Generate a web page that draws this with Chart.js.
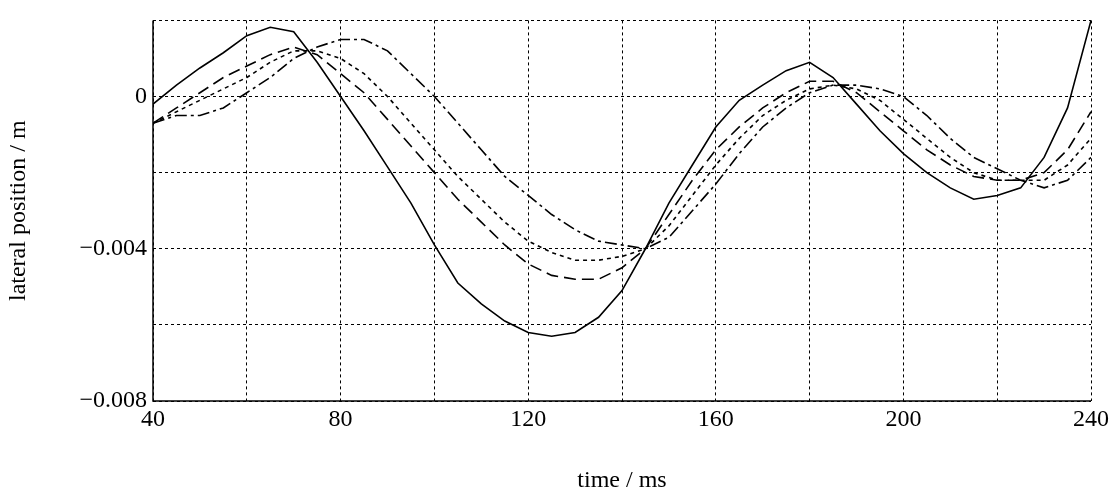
<!DOCTYPE html>
<html>
<head>
<meta charset="utf-8">
<script src="https://cdn.jsdelivr.net/npm/chart.js@4"></script>
<style>
  html, body { margin: 0; padding: 0; background: #fff; }
  #wrap { width: 1113px; height: 487px; }
</style>
</head>
<body>
<div id="wrap"><canvas id="c"></canvas></div>
<script>
// sample times (ms)
const times = [40,45,50,55,60,65,70,75,80,85,90,95,100,105,110,115,120,125,130,135,140,
  145,150,155,160,165,170,175,180,185,190,195,200,205,210,215,220,225,230,235,240];

// lateral position (m) for the four curves
const solid = [-0.0002,0.0003,0.00075,0.00115,0.0016,0.00182,0.0017,0.0009,0.0000,-0.0009,-0.00185,
  -0.0028,-0.0039,-0.0049,-0.00545,-0.0059,-0.0062,-0.0063,-0.0062,-0.0058,-0.0051,
  -0.0040,-0.0028,-0.0018,-0.0008,-0.0001,0.0003,0.00068,0.0009,0.0005,-0.0002,
  -0.0009,-0.0015,-0.002,-0.0024,-0.0027,-0.0026,-0.0024,-0.0016,-0.0003,0.002];
const dashed = [-0.0007,-0.0003,0.0001,0.0005,0.0008,0.0011,0.0013,0.0011,0.0006,0.0001,-0.0006,
  -0.0013,-0.0020,-0.0027,-0.0033,-0.0039,-0.0044,-0.0047,-0.0048,-0.0048,-0.0045,
  -0.0040,-0.0031,-0.0022,-0.0014,-0.0008,-0.0003,0.0001,0.0004,0.0004,0.0001,
  -0.0004,-0.0009,-0.0014,-0.0018,-0.0021,-0.0022,-0.0022,-0.0020,-0.0014,-0.0004];
const dotted = [-0.0007,-0.0004,-0.0001,0.0002,0.0005,0.0009,0.0012,0.0012,0.0010,0.0006,0.0000,
  -0.0007,-0.0014,-0.0021,-0.0027,-0.0033,-0.0038,-0.0041,-0.0043,-0.0043,-0.0042,
  -0.0040,-0.0034,-0.0026,-0.0018,-0.0011,-0.0005,-0.0001,0.0002,0.0003,0.0002,
  -0.0001,-0.0006,-0.0011,-0.0016,-0.0020,-0.0022,-0.0022,-0.0022,-0.0018,-0.0011];
const dashDot = [-0.0007,-0.0005,-0.0005,-0.0003,0.0001,0.0005,0.0010,0.0013,0.0015,0.0015,0.0012,
  0.0006,0.0000,-0.0007,-0.0014,-0.0021,-0.0026,-0.0031,-0.0035,-0.0038,-0.0039,
  -0.0040,-0.0037,-0.0030,-0.0023,-0.0015,-0.0008,-0.0003,0.0001,0.0003,0.0003,
  0.0002,0.0000,-0.0005,-0.0011,-0.0016,-0.0019,-0.0022,-0.0024,-0.0022,-0.0016];

const xLabels = [40, 80, 120, 160, 200, 240];
const yLabels = [0, -0.004, -0.008];

const pts = arr => arr.map((v, i) => ({ x: times[i], y: v }));
const line = (arr, dash) => ({
  data: pts(arr),
  borderColor: '#000',
  borderWidth: 1.6,
  borderDash: dash,
  pointRadius: 0,
  tension: 0,
  fill: false
});

const font = { family: '"Liberation Serif", serif', size: 24 };

// solid left and bottom axis lines over the dotted grid
const axisLines = {
  id: 'axisLines',
  afterDatasetsDraw(chart) {
    const { ctx, chartArea: a } = chart;
    ctx.save();
    ctx.setLineDash([]);
    ctx.strokeStyle = '#000';
    ctx.lineWidth = 1.5;
    ctx.beginPath();
    ctx.moveTo(a.left, a.top);
    ctx.lineTo(a.left, a.bottom);
    ctx.lineTo(a.right, a.bottom);
    ctx.stroke();
    ctx.restore();
  }
};

function draw() {
  new Chart(document.getElementById('c'), {
    type: 'line',
    data: {
      datasets: [
        line(solid, []),
        line(dashed, [12, 6]),
        line(dotted, [4, 4]),
        line(dashDot, [12, 4, 3, 4])
      ]
    },
    options: {
      responsive: true,
      maintainAspectRatio: false,
      animation: false,
      layout: { padding: { top: 8, right: 20, left: 0, bottom: 0 } },
      plugins: { legend: { display: false }, tooltip: { enabled: false } },
      scales: {
        x: {
          type: 'linear',
          min: 40, max: 240,
          afterFit: s => { s.height = 86; },
          ticks: {
            stepSize: 20, color: '#000', font, padding: 4,
            callback: v => xLabels.includes(v) ? String(v) : ''
          },
          grid: { color: '#000', lineWidth: 1, tickLength: 0 },
          border: { display: false, dash: [3, 3] },
          title: { display: true, text: 'time / ms', color: '#000', font, padding: { top: 4, bottom: -8 } }
        },
        y: {
          min: -0.008, max: 0.002,
          afterFit: s => { s.width = 153; },
          ticks: {
            stepSize: 0.002, color: '#000', font, padding: 6,
            callback: v => {
              const r = Math.round(v * 1000) / 1000;
              if (!yLabels.includes(r)) return '';
              return r === 0 ? '0' : '\u2212' + Math.abs(r).toFixed(3);
            }
          },
          grid: { color: '#000', lineWidth: 1, tickLength: 0 },
          border: { display: false, dash: [3, 3] },
          title: { display: true, text: 'lateral position / m', color: '#000', font, padding: { bottom: 0 } }
        }
      }
    },
    plugins: [axisLines]
  });
}

document.fonts.load('24px "Liberation Serif"').then(draw, draw);
</script>
</body>
</html>
